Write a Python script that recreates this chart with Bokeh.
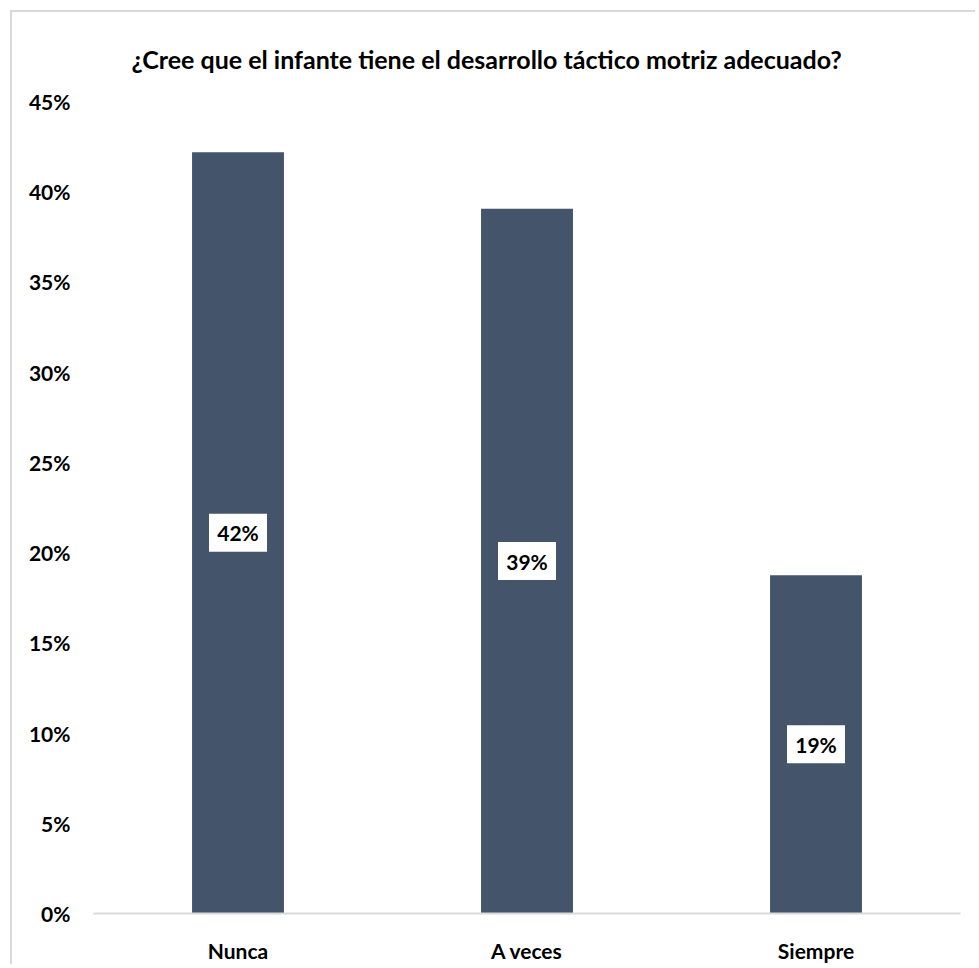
from bokeh.plotting import figure
from bokeh.models import ColumnDataSource, Range1d, FixedTicker, NumeralTickFormatter, Title
from bokeh.core.properties import value
from bokeh.embed import file_html
from bokeh.resources import INLINE

categories = ["Nunca", "A veces", "Siempre"]
values = [0.4219, 0.3906, 0.1875]
labels = ["42%", "39%", "19%"]
y_ticks = [0.0, 0.05, 0.10, 0.15, 0.20, 0.25, 0.30, 0.35, 0.40, 0.45]

FONT = "Lato"
src = ColumnDataSource(dict(cat=categories, val=values, mid=[v / 2 for v in values], lab=labels))

p = figure(x_range=categories, y_range=Range1d(0, 0.45), width=965, height=954,
           output_backend="svg", toolbar_location=None, tools="",
           min_border_left=81, min_border_right=17, min_border_top=89, min_border_bottom=53)
p.styles = {"margin-top": "10px", "margin-left": "10px",
            "border-top": "2px solid #d9d9d9", "border-left": "2px solid #d9d9d9"}

p.vbar(x="cat", top="val", width=0.318, source=src, fill_color="#44546A", line_color=None)

p.rect(x="cat", y="mid", width=58, height=38, width_units="screen", height_units="screen",
       source=src, fill_color="white", line_color=None)
p.text(x="cat", y="mid", text="lab", source=src, text_align="center", text_baseline="middle",
       text_font=value(FONT), text_font_style="bold", text_font_size="21px", text_color="#000000")

t = Title(text="¿Cree que el infante tiene el desarrollo táctico motriz adecuado?", align="left",
          offset=38, text_font=FONT, text_font_style="bold", text_font_size="25px",
          text_color="#000000", standoff=51, vertical_align="top")
p.add_layout(t, "above")

p.grid.visible = False
p.outline_line_color = None
p.background_fill_color = "white"
p.border_fill_color = "white"

p.yaxis.ticker = FixedTicker(ticks=y_ticks)
p.yaxis.formatter = NumeralTickFormatter(format="0%")
p.yaxis.axis_line_color = None
p.yaxis.major_tick_line_color = None
p.yaxis.minor_tick_line_color = None
p.yaxis.major_label_standoff = 17
p.yaxis.major_label_text_font = FONT
p.yaxis.major_label_text_font_style = "bold"
p.yaxis.major_label_text_font_size = "21px"
p.yaxis.major_label_text_color = "#000000"

p.xaxis.axis_line_color = "#d9d9d9"
p.xaxis.axis_line_width = 2
p.xaxis.major_tick_line_color = None
p.xaxis.minor_tick_line_color = None
p.xaxis.major_label_standoff = 18
p.xaxis.major_label_text_font = FONT
p.xaxis.major_label_text_font_style = "bold"
p.xaxis.major_label_text_font_size = "21px"
p.xaxis.major_label_text_color = "#000000"
p.x_range.range_padding = 0

open("out.html", "w").write(file_html(p, INLINE))
